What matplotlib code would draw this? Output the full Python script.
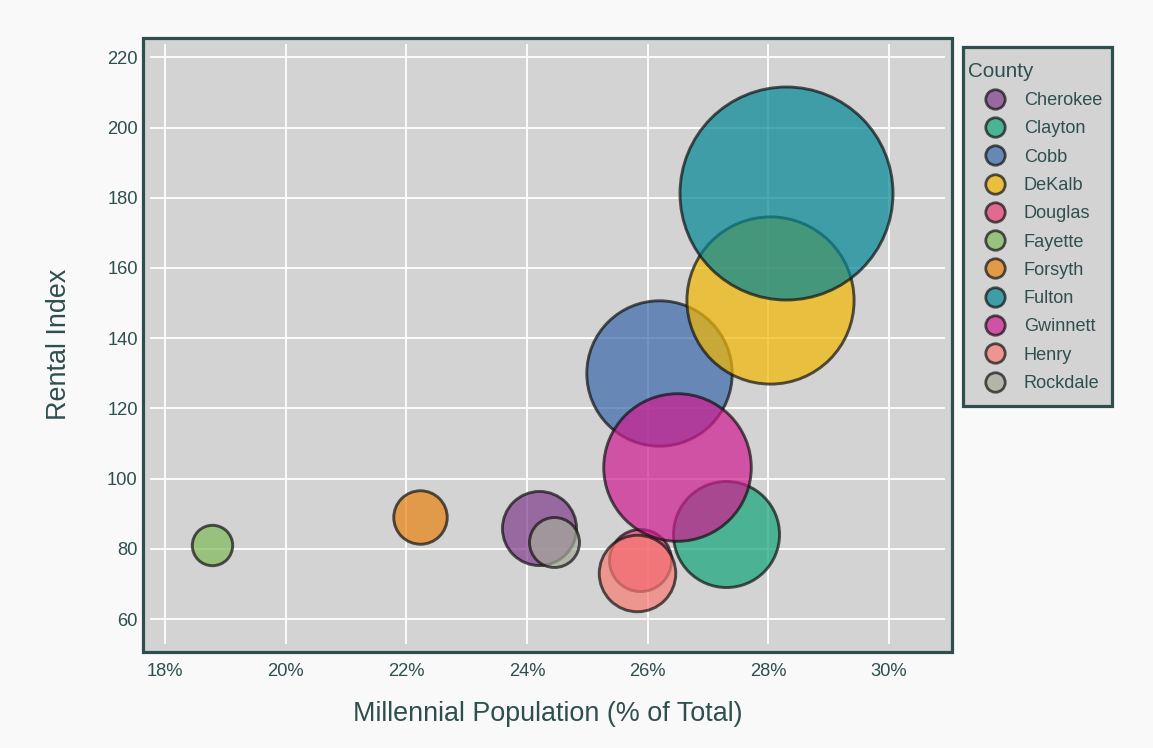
import matplotlib
matplotlib.use('Agg')
import matplotlib.pyplot as plt
from matplotlib.colors import to_rgba
from matplotlib.lines import Line2D
from matplotlib.patches import Rectangle
from matplotlib.ticker import FuncFormatter

plt.rcParams['font.family'] = ['Liberation Sans', 'DejaVu Sans']

# County data (legend order)
counties = ['Cherokee', 'Clayton', 'Cobb', 'DeKalb', 'Douglas', 'Fayette',
            'Forsyth', 'Fulton', 'Gwinnett', 'Henry', 'Rockdale']
millennial_pct = [24.2, 27.3, 26.18, 28.03, 25.88, 18.78,
                  22.23, 28.3, 26.48, 25.83, 24.45]
rental_index = [85.9, 84.1, 130.0, 151.0, 76.9, 81.0,
                89.0, 181.3, 103.3, 73.0, 82.0]
bubble_size = [121, 248, 466, 616, 85, 36, 63, 1000, 480, 129, 55]
colors = ['#7F3C8D', '#11A579', '#3969AC', '#F2B701', '#E73F74', '#80BA5A',
          '#E68310', '#008695', '#CF1C90', '#F97B72', '#A5AA99']

x_ticks = [18, 20, 22, 24, 26, 28, 30]
y_ticks = [60, 80, 100, 120, 140, 160, 180, 200, 220]

TEXT = '#2F4F4F'
FRAME = '#2F4F4F'
PLOT_BG = '#D3D3D3'
ALPHA = 0.7
W, H = 1153, 748

fig = plt.figure(figsize=(W / 100, H / 100), dpi=100, facecolor='#F9F9F9')

# outer frame around the plot area and around the legend
fig.patches.append(Rectangle((142.5 / W, 1 - 651.7 / H), (952.3 - 142.5) / W,
                             (651.7 - 38) / H, transform=fig.transFigure,
                             facecolor=PLOT_BG, edgecolor=FRAME, linewidth=2.3, zorder=0))
fig.patches.append(Rectangle((962.5 / W, 1 - 405.5 / H), (1111.5 - 962.5) / W,
                             (405.5 - 47.2) / H, transform=fig.transFigure,
                             facecolor=PLOT_BG, edgecolor=FRAME, linewidth=2.3, zorder=0))

ax = fig.add_axes([150 / W, 1 - 644 / H, 795 / W, 600 / H], zorder=2)
ax.set_facecolor('none')
for sp in ax.spines.values():
    sp.set_visible(False)

scale = 23.52
for i, c in enumerate(counties):
    ax.scatter(millennial_pct[i], rental_index[i], s=bubble_size[i] * scale,
               facecolor=to_rgba(colors[i], ALPHA),
               edgecolor=to_rgba('#111111', ALPHA), linewidth=2.1, zorder=3 + i)

ax.set_xlim(17.751, 30.928)
ax.set_ylim(52.88, 223.79)
ax.set_xticks(x_ticks)
ax.set_yticks(y_ticks)
ax.xaxis.set_major_formatter(FuncFormatter(lambda v, p: '%d%%' % v))
ax.grid(True, color='white', linewidth=1.3, zorder=1)
ax.set_axisbelow(True)
ax.tick_params(axis='both', length=0, labelsize=13.2, labelcolor=TEXT)
ax.tick_params(axis='x', pad=13.6)
ax.tick_params(axis='y', pad=8.9)

fig.text(548 / W, 1 - 721 / H, 'Millennial Population (% of Total)',
         ha='center', va='baseline', fontsize=19.4, color=TEXT)
fig.text(65.7 / W, 1 - 344.5 / H, 'Rental Index', rotation=90,
         rotation_mode='anchor', ha='center', va='baseline',
         fontsize=19.4, color=TEXT)

# legend
handles = [Line2D([], [], linestyle='', marker='o', markersize=14,
                  markerfacecolor=to_rgba(col, ALPHA),
                  markeredgecolor=to_rgba('#111111', ALPHA), markeredgewidth=2.0)
           for col in colors]
leg = fig.legend(handles, counties, loc='upper left',
                 bbox_to_anchor=(962.5 / W, 1 - 56.2 / H), borderaxespad=0,
                 title='County', fontsize=13.1, title_fontsize=14.9,
                 labelcolor=TEXT, alignment='left', borderpad=0.31,
                 handlelength=2.9, handletextpad=0.17, labelspacing=0.62,
                 frameon=False)
leg.get_title().set_color(TEXT)
leg.set_zorder(3)

fig.savefig('out.png', dpi=100, facecolor=fig.get_facecolor())
